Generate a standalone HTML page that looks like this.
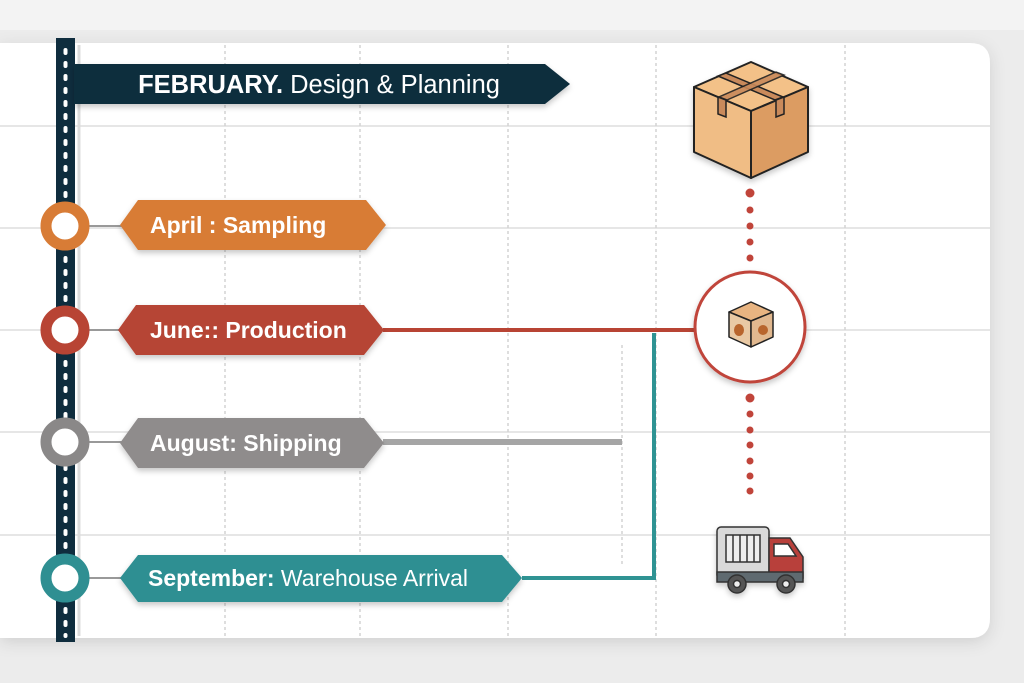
<!DOCTYPE html>
<html><head><meta charset="utf-8"><style>
html,body{margin:0;padding:0;background:#ececec;}
svg{display:block;font-family:"Liberation Sans",sans-serif;}
</style></head><body>
<svg width="1024" height="683" viewBox="0 0 1024 683" xmlns="http://www.w3.org/2000/svg">
<defs>
<filter id="sh" x="-20%" y="-20%" width="140%" height="150%"><feDropShadow dx="0" dy="3" stdDeviation="3" flood-color="#000" flood-opacity="0.22"/></filter>
<filter id="csh" x="-5%" y="-5%" width="110%" height="115%"><feDropShadow dx="0" dy="4" stdDeviation="8" flood-color="#000" flood-opacity="0.12"/></filter>
</defs>
<rect width="1024" height="683" fill="#ececec"/>
<rect x="0" y="0" width="1024" height="30" fill="#f3f3f3"/>
<path d="M0 43 H970 Q990 43 990 63 V618 Q990 638 970 638 H0 Z" fill="#ffffff" filter="url(#csh)"/>
<g stroke="#e6e6e6" stroke-width="2">
<line x1="0" y1="126" x2="990" y2="126"/><line x1="0" y1="228" x2="990" y2="228"/>
<line x1="0" y1="330" x2="990" y2="330"/><line x1="0" y1="432" x2="990" y2="432"/>
<line x1="0" y1="535" x2="990" y2="535"/>
</g>
<g stroke="#d4d4d4" stroke-width="1.5" stroke-dasharray="3 3">
<line x1="225" y1="45" x2="225" y2="636"/><line x1="360" y1="45" x2="360" y2="636"/>
<line x1="508" y1="45" x2="508" y2="636"/><line x1="656" y1="45" x2="656" y2="636"/>
<line x1="845" y1="45" x2="845" y2="636"/><line x1="622" y1="345" x2="622" y2="565"/>
</g>
<line x1="79" y1="45" x2="79" y2="636" stroke="#dcdcdc" stroke-width="3"/>
<rect x="56" y="38" width="19" height="604" fill="#0f2d3e"/>
<line x1="65.5" y1="50" x2="65.5" y2="636" stroke="#fff" stroke-width="4" stroke-linecap="round" stroke-dasharray="3 10"/>
<path d="M74 64 H545 L570 84 L545 104 H74 Z" fill="#0f2d3e" filter="url(#sh)"/>
<text x="319" y="93" fill="#fff" font-size="25.5" text-anchor="middle"><tspan font-weight="bold">FEBRUARY.</tspan> Design &amp; Planning</text>
<g stroke="#999" stroke-width="2"><line x1="85" y1="226" x2="122" y2="226"/><line x1="85" y1="330" x2="122" y2="330"/><line x1="85" y1="442" x2="122" y2="442"/><line x1="85" y1="578" x2="122" y2="578"/></g>
<line x1="383" y1="330" x2="695" y2="330" stroke="#b84434" stroke-width="4"/>
<line x1="383" y1="442" x2="622" y2="442" stroke="#a5a5a5" stroke-width="6"/>
<polyline points="522,578 654,578 654,333" fill="none" stroke="#2f9393" stroke-width="4"/>
<path d="M120 225 L138 200 H366 L386 225 L366 250 H138 Z" fill="#d87c36" filter="url(#sh)"/>
<text x="150" y="233" fill="#fff" font-size="23" font-weight="bold">April :  Sampling</text>
<path d="M118 330 L136 305 H364 L384 330 L364 355 H136 Z" fill="#b64535" filter="url(#sh)"/>
<text x="150" y="338" fill="#fff" font-size="23" font-weight="bold">June:: Production</text>
<path d="M120 443 L138 418 H364 L384 443 L364 468 H138 Z" fill="#8f8c8c" filter="url(#sh)"/>
<text x="150" y="451" fill="#fff" font-size="23" font-weight="bold">August: Shipping</text>
<path d="M120 578 L138 555 H502 L522 578 L502 602 H138 Z" fill="#2f8f92" filter="url(#sh)"/>
<text x="148" y="586" fill="#fff" font-size="23"><tspan font-weight="bold">September:</tspan> Warehouse Arrival</text>
<g stroke-width="11" fill="#fff">
<circle cx="65" cy="226" r="19" stroke="#d87c36"/>
<circle cx="65" cy="330" r="19" stroke="#b84434"/>
<circle cx="65" cy="442" r="19" stroke="#8a8888"/>
<circle cx="65" cy="578" r="19" stroke="#2f8f92"/>
</g>
<g fill="#c0443a">
<circle cx="750" cy="193" r="4.5"/><circle cx="750" cy="210" r="3.5"/><circle cx="750" cy="226" r="3.5"/><circle cx="750" cy="242" r="3.5"/><circle cx="750" cy="258" r="3.5"/>
<circle cx="750" cy="398" r="4.5"/><circle cx="750" cy="414" r="3.5"/><circle cx="750" cy="430" r="3.5"/><circle cx="750" cy="445" r="3.5"/><circle cx="750" cy="461" r="3.5"/><circle cx="750" cy="476" r="3.5"/><circle cx="750" cy="491" r="3.5"/>
</g>
<g stroke="#222" stroke-width="2" stroke-linejoin="round" filter="url(#sh)">
<path d="M694 87 L751 62 L808 87 L751 111 Z" fill="#f3c188"/>
<path d="M694 87 L751 111 L751 178 L694 152 Z" fill="#f0bd85"/>
<path d="M808 87 L751 111 L751 178 L808 152 Z" fill="#dc9c62"/>
</g>
<g stroke="#222" stroke-width="1.5" fill="#c98a5b">
<path d="M718 76 L775 100 L783 97 L726 73 Z"/><path d="M776 72 L719 97 L727 100 L784 75 Z" opacity=".9"/>
<path d="M718 97 L726 100 L726 117 L718 114 Z"/><path d="M784 97 L776 100 L776 117 L784 114 Z"/>
</g>
<circle cx="750" cy="327" r="55" fill="#fff" stroke="#c0443a" stroke-width="3" filter="url(#sh)"/>
<g stroke="#222" stroke-width="1.5" stroke-linejoin="round">
<path d="M729 312 L751 302 L773 312 L751 321 Z" fill="#e8b481"/>
<path d="M729 312 L751 321 L751 347 L729 337 Z" fill="#e9c9a4"/>
<path d="M773 312 L751 321 L751 347 L773 337 Z" fill="#e1b88f"/>
</g>
<ellipse cx="739" cy="330" rx="5" ry="6" fill="#b8652d"/><ellipse cx="763" cy="330" rx="5" ry="5" fill="#b8652d"/>
<g stroke="#333" stroke-width="1.5" filter="url(#sh)">
<rect x="717" y="527" width="52" height="52" rx="4" fill="#d9d9d9"/>
<rect x="726" y="535" width="34" height="27" fill="#eee"/>
<path d="M769 538 H790 L803 557 V578 H769 Z" fill="#b8403a"/>
<path d="M774 544 H788 L796 556 H774 Z" fill="#fff"/>
<rect x="717" y="572" width="86" height="10" fill="#5f6a70"/>
<circle cx="737" cy="584" r="9" fill="#555"/><circle cx="786" cy="584" r="9" fill="#555"/>
<circle cx="737" cy="584" r="3.5" fill="#eee"/><circle cx="786" cy="584" r="3.5" fill="#eee"/>
</g>
<g stroke="#333" stroke-width="1.5"><line x1="733" y1="535" x2="733" y2="562"/><line x1="740" y1="535" x2="740" y2="562"/><line x1="747" y1="535" x2="747" y2="562"/><line x1="754" y1="535" x2="754" y2="562"/></g>
</svg>
</body></html>
